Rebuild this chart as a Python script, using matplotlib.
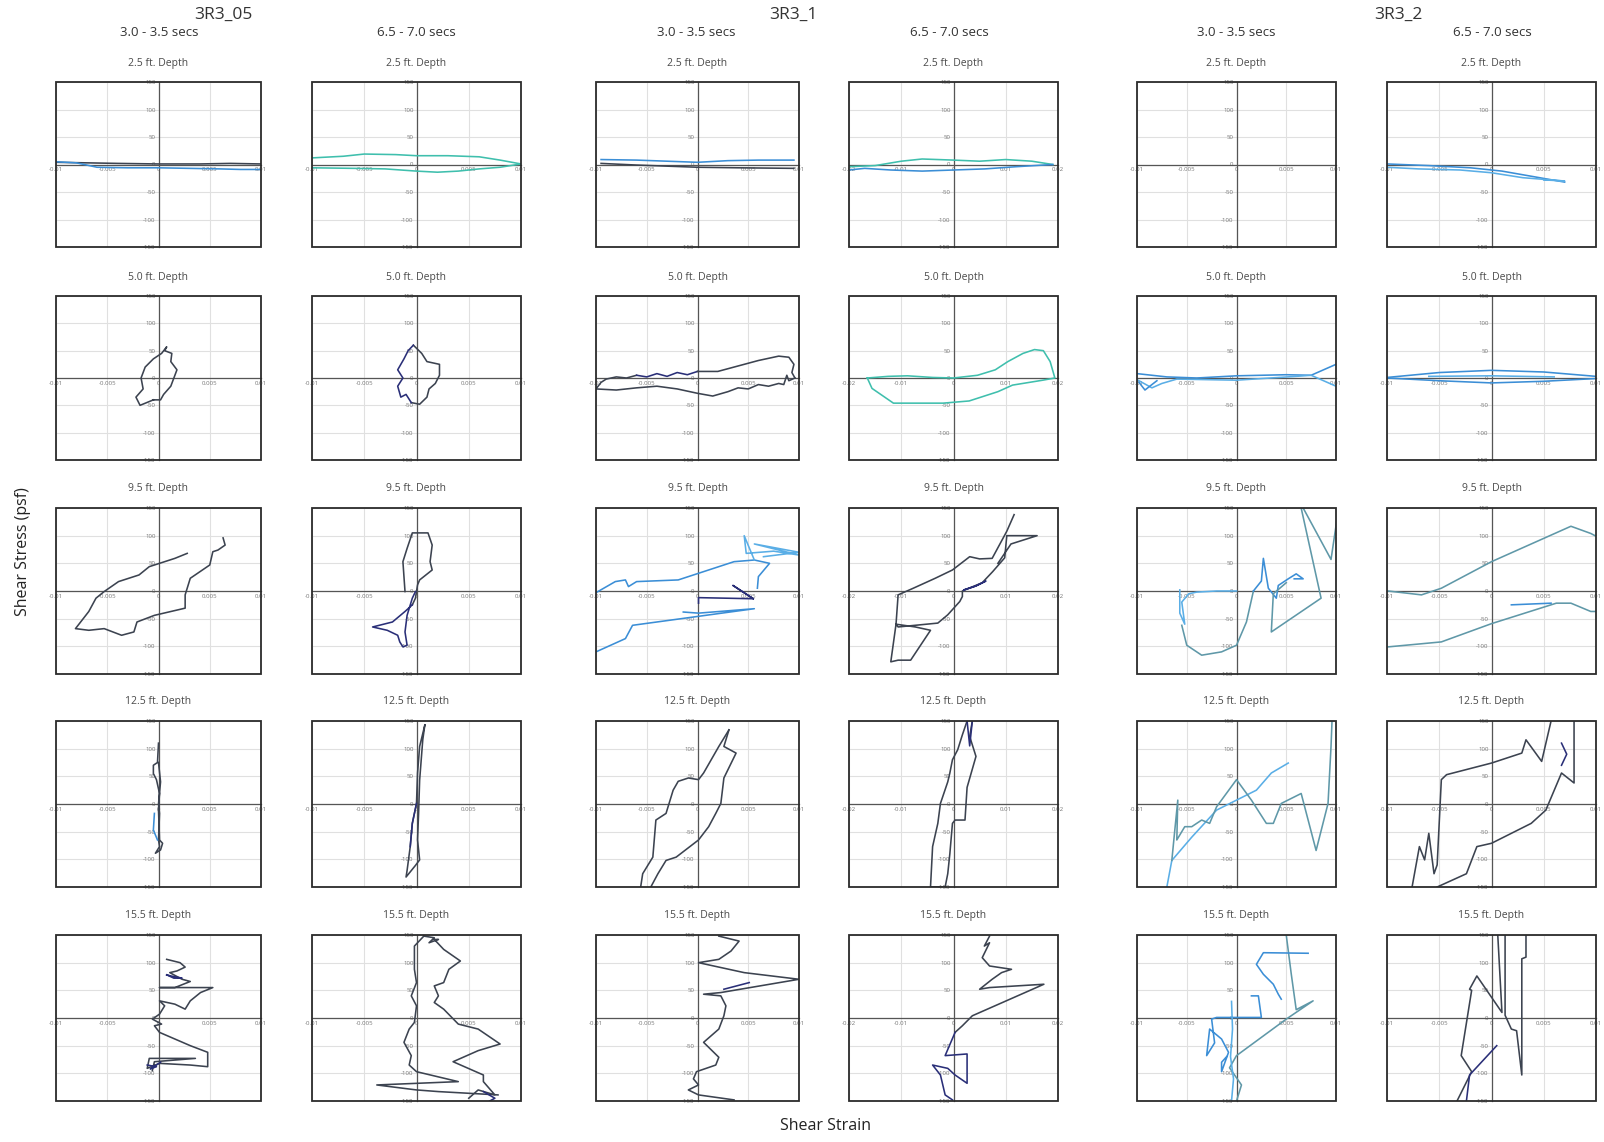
import matplotlib
matplotlib.use("Agg")
import matplotlib.pyplot as plt
from matplotlib.patches import Rectangle
from matplotlib.ticker import FuncFormatter

plt.rcParams["font.family"] = ["Open Sans", "DejaVu Sans"]

# ---------------------------------------------------------------------------
# Layout labels
# ---------------------------------------------------------------------------
groups = ["3R3_05", "3R3_1", "3R3_2"]
windows = ["3.0 - 3.5 secs", "6.5 - 7.0 secs"]
depths = ["2.5", "5.0", "9.5", "12.5", "15.5"]
# strain axis half-range for each column
strain_limits = [0.01, 0.01, 0.01, 0.02, 0.01, 0.01]
stress_limit = 150

COLORS = {
    "dark": "#3c4350",
    "navy": "#2a2f78",
    "blue": "#3b8ed6",
    "light": "#5aaee6",
    "teal": "#3fbfad",
    "gteal": "#5f98a8",
}

# ---------------------------------------------------------------------------
# Stress-strain traces: (colour key, shear strain, shear stress psf)
# ---------------------------------------------------------------------------
# 2.5 ft depth
r05_a_25 = [
    ("dark", [-0.01, -0.007, -0.004, 0, 0.004, 0.007, 0.01], [4, 3, 2, 1, 1, 2, 1]),
    ("blue", [-0.01, -0.008, -0.006, -0.003, 0, 0.003, 0.006, 0.008, 0.01],
     [5, 3, -5, -6, -6, -7, -8, -9, -9]),
]
r05_b_25 = [
    ("teal", [-0.01, -0.007, -0.005, -0.002, 0, 0.003, 0.006, 0.008, 0.01],
     [12, 15, 19, 18, 16, 16, 14, 8, 1]),
    ("teal", [0.01, 0.008, 0.006, 0.004, 0.002, 0, -0.003, -0.006, -0.01],
     [1, -5, -8, -12, -14, -12, -8, -7, -6]),
]
r1_a_25 = [
    ("blue", [-0.0095, -0.006, -0.003, 0, 0.003, 0.006, 0.0095], [9, 8, 6, 4, 7, 8, 8]),
    ("dark", [-0.0095, -0.006, -0.003, 0, 0.004, 0.0095], [2, -1, -3, -5, -6, -7]),
]
r1_b_25 = [
    ("teal", [-0.02, -0.015, -0.01, -0.006, 0, 0.005, 0.01, 0.015, 0.019],
     [-4, -2, 6, 10, 8, 6, 9, 6, 0]),
    ("blue", [0.019, 0.012, 0.006, 0, -0.006, -0.012, -0.017, -0.02],
     [0, -4, -8, -10, -12, -10, -7, -10]),
]
r2_a_25 = []
r2_b_25 = [
    ("blue", [-0.01, -0.006, -0.002, 0.001, 0.004, 0.007], [1, -2, -6, -12, -22, -32]),
    ("light", [-0.01, -0.007, -0.003, 0, 0.003, 0.007, 0.005], [-5, -8, -10, -15, -24, -30, -28]),
]

# 5.0 ft depth
r05_a_50 = [
    ("dark", [-0.0005, -0.0018, -0.0022, -0.0015, -0.0017, -0.0013, -0.0005, 0.0003, 0.0008,
              0.0006, 0.0013, 0.0012, 0.0018, 0.0015, 0.0012, 0.0005, 0.0002, -0.0005],
     [-40, -50, -35, -20, 0, 20, 35, 45, 57, 50, 45, 30, 15, 0, -15, -30, -40, -40]),
]
r05_b_50 = [
    ("dark", [-0.0003, 0.0005, 0.001, 0.0022, 0.0022, 0.0018, 0.0012, 0.001, 0.0003, -0.0005],
     [60, 45, 30, 25, 5, -10, -20, -35, -48, -45]),
    ("navy", [-0.0005, -0.001, -0.0015, -0.0018, -0.0013, -0.0018, -0.0012, -0.0008, -0.0003],
     [-45, -30, -35, -15, 0, 15, 35, 50, 60]),
]
r1_a_50 = [
    ("dark", [-0.01, -0.0095, -0.009, -0.008, -0.007, -0.006],
     [-20, -8, -2, 2, 0, 5]),
    ("navy", [-0.006, -0.005, -0.004, -0.003, -0.002, -0.001, 0],
     [5, 2, 8, 3, 10, 6, 12]),
    ("dark", [0, 0.002, 0.004, 0.006, 0.008, 0.009, 0.0095, 0.0093, 0.0096],
     [12, 12, 22, 32, 40, 38, 25, 10, 0]),
    ("dark", [0.0096, 0.009, 0.0088, 0.0085, 0.008, 0.007, 0.006, 0.005, 0.004, 0.003,
              0.0015, 0, -0.002, -0.004, -0.006, -0.008, -0.01],
     [0, -5, 5, -12, -10, -15, -12, -20, -18, -25, -33, -28, -20, -15, -18, -22, -20]),
]
r1_b_50 = [
    ("teal", [-0.0165, -0.0125, -0.0088, -0.004, 0, 0.0046, 0.008, 0.0104, 0.0133, 0.0155,
              0.0172, 0.0185, 0.0194, 0.0171, 0.0113, 0.0085, 0.003, -0.002, -0.0069,
              -0.0115, -0.0156, -0.0165],
     [0, 3, 4, 1, 0, 5, 15, 30, 45, 52, 50, 30, 0, -4, -13, -25, -42, -46, -46, -46, -19, 0]),
]
r2_a_50 = [
    ("blue", [-0.01, -0.007, -0.004, 0, 0.005, 0.0075, 0.01], [8, 2, 0, 4, 6, 5, 25]),
    ("light", [-0.01, -0.0085, -0.0075, -0.006, 0, 0.006, 0.0075, 0.01],
     [-3, -18, -10, -2, -4, 3, 5, -15]),
    ("blue", [-0.0098, -0.0092, -0.0085, -0.008], [-8, -22, -12, -5]),
]
r2_b_50 = [
    ("blue", [-0.01, -0.005, 0, 0.005, 0.01], [1, 10, 14, 11, 3]),
    ("blue", [0.01, 0.005, 0, -0.005, -0.01], [-1, -6, -9, -5, 0]),
    ("light", [-0.006, 0, 0.006], [3, 4, 2]),
]

# 9.5 ft depth
r05_a_95 = [
    ("dark", [0.0028, 0.0016, 0.0001, -0.0009, -0.0019, -0.0039, -0.0053, -0.0061, -0.0068,
              -0.0081, -0.0068, -0.0053, -0.0036, -0.0024, -0.0021, -0.0004, 0.0026, 0.0026,
              0.0031, 0.005, 0.0053, 0.0058, 0.0065, 0.0063],
     [68, 59, 50, 44, 29, 17, -1, -13, -37, -68, -71, -68, -80, -74, -56, -44, -31, -7, 23,
      47, 71, 74, 83, 96]),
]
r05_b_95 = [
    ("dark", [-0.0011, -0.0013, -0.0009, -0.0004, 0.0011, 0.0015, 0.0013, 0.0015, 0.0003,
              0.0001, -0.0001, -0.0004],
     [-1, 53, 77, 105, 105, 83, 53, 38, 20, 11, -13, -25]),
    ("navy", [-0.0004, -0.0011, -0.0023, -0.0042, -0.0028, -0.0018, -0.0016, -0.0013,
              -0.0009, -0.0011, -0.0009, -0.0004, -0.0001],
     [-25, -37, -56, -65, -71, -80, -92, -101, -98, -74, -44, -13, -1]),
]
r1_a_95 = [
    ("blue", [-0.01, -0.0081, -0.0071, -0.0068, -0.006, -0.0019, 0.0006, 0.0036, 0.0056,
              0.0071, 0.006, 0.0059],
     [-3, 17, 20, 8, 17, 20, 35, 53, 56, 50, 26, 5]),
    ("light", [0.0056, 0.0046, 0.0048, 0.0075, 0.01, 0.0056, 0.01, 0.0065],
     [56, 100, 68, 72, 65, 85, 70, 62]),
    ("navy", [0.0055, 0.0035, 0.0055, 0.0001, 0.0001], [-14, 10, -14, -12, -22]),
    ("blue", [-0.0014, 0.0001, 0.0056, -0.0064, -0.0071, -0.01], [-38, -40, -32, -62, -86, -110]),
]
r1_b_95 = [
    ("dark", [0.0116, 0.0102, 0.0074, 0.005, 0.0031, -0.0002, -0.0035, -0.0077, -0.0106,
              -0.011, -0.012, -0.0106, -0.0082, -0.0044, -0.0073, -0.011, -0.0106, -0.003,
              -0.0011, 0.0012, 0.0017, 0.0017, 0.0055, 0.0075, 0.0098, 0.0102, 0.016, 0.011,
              0.0085],
     [138, 108, 59, 58, 62, 38, 23, 5, -7, -60, -128, -125, -125, -71, -65, -60, -65, -58,
      -43, -19, -10, 0, 15, 35, 60, 100, 100, 85, 50]),
    ("navy", [0.002, 0.0045, 0.0062, 0.004, 0.002], [2, 10, 18, 8, 2]),
]
r2_a_95 = [
    ("light", [-0.0057, -0.0057, -0.0052, -0.0055, -0.0048, -0.004, -0.002, 0],
     [2, -40, -60, -20, -5, -2, 0, 0]),
    ("gteal", [-0.0055, -0.005, -0.0035, -0.0015, 0, 0.001, 0.0017],
     [-62, -98, -116, -110, -98, -56, 0]),
    ("blue", [0.0017, 0.0025, 0.0027, 0.0032, 0.004, 0.0042, 0.0052, 0.006, 0.0067, 0.0058],
     [0, 18, 59, 5, -13, 10, 22, 31, 22, 22]),
    ("gteal", [0.0065, 0.0085, 0.0035, 0.0037, 0.005], [150, -13, -74, -5, 15]),
    ("gteal", [0.0067, 0.0095, 0.0101], [150, 57, 130]),
]
r2_b_95 = [
    ("gteal", [-0.0099, -0.0067, -0.0048, 0, 0.0076, 0.0095, 0.01], [0, -7, 5, 53, 117, 104, 99]),
    ("gteal", [-0.0099, -0.0048, 0, 0.0062, 0.0076, 0.0095, 0.01],
     [-101, -92, -59, -22, -22, -37, -37]),
    ("blue", [0.0019, 0.0057], [-25, -22]),
]

# 12.5 ft depth
r05_a_125 = [
    ("dark", [0, -0.0001, -0.0005, -0.0005, -0.0002, 0.0001, 0, 0.0001, 0.0004, 0.0002,
              -0.0003, 0.0001, 0, 0.0001, 0, 0.0002, 0],
     [110, 75, 70, 55, 44, 19, -11, -65, -71, -83, -89, -77, -65, -17, 0, 40, 75]),
    ("blue", [-0.0004, -0.0005, -0.0001], [-17, -47, -65]),
]
r05_b_125 = [
    ("dark", [0.0008, 0.0003, 0.0001, 0, -0.0004, -0.0006, -0.0009, -0.001, -0.0001, 0.0003,
              0.0001, 0.0002, 0.0003, 0.0006, 0.0008],
     [143, 104, 56, 1, -35, -77, -120, -132, -111, -101, -65, -17, 43, 116, 143]),
    ("navy", [0, -0.0004, -0.0006], [1, -35, -77]),
]
r1_a_125 = [
    ("dark", [0.0031, 0.0026, 0.0038, 0.0026, 0.0023, 0.0018, 0.0011, 0.0006, 0.0001,
              -0.0021, -0.0031, -0.0039, -0.0046],
     [134, 104, 92, 47, 1, -17, -41, -53, -65, -96, -102, -126, -150]),
    ("dark", [-0.0056, -0.0054, -0.0044, -0.0041, -0.0031, -0.0024, -0.0019, -0.0009, 0.0001,
              0.0006, 0.0021, 0.0031],
     [-150, -126, -96, -29, -17, 25, 41, 47, 44, 56, 104, 134]),
]
r1_b_125 = [
    ("dark", [0.0026, 0.0017, 0.0008, -0.0002, -0.0007, -0.0011, -0.0025, -0.003, -0.004,
              -0.0044, -0.0016, -0.0011, -0.0007, -0.0002, 0.0003, 0.0022, 0.0026, 0.0043,
              0.0031, 0.0036],
     [150, 125, 98, 80, 56, 40, 1, -35, -77, -150, -150, -126, -90, -35, -29, -29, 30, 86,
      122, 150]),
    ("navy", [0.0026, 0.0031, 0.0036], [150, 105, 150]),
]
r2_a_125 = [
    ("light", [-0.007, -0.0065, -0.0045, -0.002, 0, 0.002, 0.0035, 0.0052],
     [-150, -102, -60, -11, 7, 25, 56, 74]),
    ("gteal", [-0.0065, -0.0062, -0.0059, -0.006, -0.0052, -0.0045, -0.0035, -0.0027, -0.002,
               0, 0.0015, 0.003, 0.0037, 0.0045, 0.0065, 0.008, 0.0092, 0.0095, 0.0096],
     [-102, -47, 7, -65, -41, -41, -29, -35, -5, 44, 7, -35, -35, 1, 19, -84, 1, 104, 150]),
]
r2_b_125 = [
    ("dark", [-0.0076, -0.0069, -0.0064, -0.006, -0.0055, -0.0052, -0.0048, -0.0043, 0,
              0.0029, 0.0033, 0.0048, 0.0057],
     [-150, -77, -101, -53, -126, -110, 44, 53, 74, 92, 116, 77, 150]),
    ("dark", [-0.0052, -0.0038, -0.0024, -0.0014, 0, 0.0038, 0.0052, 0.0067, 0.0079, 0.0079],
     [-150, -138, -126, -77, -71, -35, -11, 56, 38, 150]),
    ("navy", [0.0067, 0.0072, 0.0067], [110, 90, 70]),
]

# 15.5 ft depth
r05_a_155 = [
    ("dark", [0.0008, 0.0021, 0.0026, 0.0018, 0.0011, 0.0023, 0.0031, 0.0016, 0.0001, 0.0053,
              0.0041, 0.0031, 0.0026, 0.0016, 0.0001, 0.0006, 0.0001, -0.0006, 0.0003, -0.0004,
              0.0001, 0.0031, 0.0048, 0.0048, 0.0031, 0.0001, -0.0011, -0.0009, 0.0036,
              -0.0004, -0.0006],
     [106, 100, 92, 85, 82, 70, 66, 55, 55, 55, 46, 31, 16, 25, 31, 22, 7, -2, -11, -14,
      -26, -50, -62, -88, -85, -82, -91, -73, -73, -79, -95]),
    ("navy", [0.0008, 0.0015, 0.0023, 0.0012, 0.0008], [78, 72, 72, 76, 78]),
    ("navy", [-0.0011, -0.0002, -0.0008, 0.0002], [-85, -88, -92, -80]),
]
r05_b_155 = [
    ("dark", [0.0007, 0.0017, 0.0012, 0.0021, 0.0017, 0.0026, 0.0042, 0.0031, 0.0026, 0.0017,
              0.0021, 0.0017, 0.0026, 0.004, 0.0059, 0.008, 0.0059, 0.0035, 0.0064, 0.0064,
              0.0075, 0.0059, 0.005],
     [148, 145, 136, 142, 142, 124, 103, 88, 64, 58, 40, 28, 16, -11, -20, -47, -59, -79,
      -103, -115, -139, -130, -145]),
    ("dark", [0.0007, -0.0002, -0.0002, 0, -0.0005, 0, -0.0002, -0.0007, -0.0012, -0.0005,
              -0.0007, 0, 0.004, -0.0038, 0, 0.0021, 0.0078],
     [148, 130, 88, 64, 40, 22, -8, -20, -44, -68, -85, -97, -115, -121, -130, -133, -139]),
    ("navy", [0.0064, 0.0075, 0.007], [-133, -145, -150]),
]
r1_a_155 = [
    ("dark", [0.0021, 0.0041, 0.0033, 0.0021, 0.0001, 0.0046, 0.01, 0.0023, 0.0006, 0.0023,
              0.0028, 0.0026, 0.0021, 0.0006, 0.0021, 0.0018, -0.0001, -0.0004, 0.0001,
              -0.0009, 0.0001, 0.0036],
     [148, 139, 121, 106, 100, 82, 70, 46, 43, 40, 22, 4, -20, -44, -71, -85, -97, -110,
      -121, -130, -139, -148]),
    ("navy", [0.0026, 0.0051], [52, 64]),
]
r1_b_155 = [
    ("dark", [0.0069, 0.0059, 0.0069, 0.0055, 0.0069, 0.0111, 0.0092, 0.0074, 0.005, 0.0069,
              0.0173, 0.0036, 0.0017, 0.0003],
     [148, 130, 136, 109, 94, 88, 82, 70, 52, 55, 61, 4, -14, -26]),
    ("navy", [0.0003, -0.0016, 0.0026, 0.0026, 0.0003, -0.0011, -0.004, -0.0025, -0.0016,
              -0.0002],
     [-26, -68, -65, -118, -103, -91, -85, -103, -139, -148]),
]
r2_a_155 = [
    ("gteal", [0.005, 0.0055, 0.006, 0.0077, 0.005, 0, -0.0007, 0.0005, 0],
     [150, 80, 15, 31, -2, -68, -90, -121, -150]),
    ("blue", [0.0072, 0.0027, 0.002, 0.0027, 0.0037, 0.0042, 0.0045],
     [117, 118, 97, 79, 61, 43, 34]),
    ("blue", [0.0015, 0.0022, 0.0025, -0.002, -0.0025, -0.0022, -0.003, -0.0027, -0.0015,
              -0.0008, -0.0015, -0.0015, -0.001],
     [40, 40, 1, 1, -2, -45, -68, -20, -38, -62, -97, -80, -70]),
    ("light", [-0.0005, -0.0004, -0.0006, -0.0003, -0.0005], [30, -20, -70, -110, -150]),
]
r2_b_155 = [
    ("dark", [0.0006, 0.001, -0.0014, -0.0021, -0.0019, -0.0029, -0.0019, -0.0033],
     [150, 10, 76, 52, 50, -68, -97, -150]),
    ("dark", [0.0013, 0.0013, 0.0019, 0.0024, 0.0029, 0.0029, 0.0033, 0.0033],
     [150, 5, -20, -23, -103, 107, 110, 150]),
    ("navy", [0.0005, -0.0021, -0.0024], [-50, -103, -150]),
]

panels = [
    [r05_a_25, r05_b_25, r1_a_25, r1_b_25, r2_a_25, r2_b_25],
    [r05_a_50, r05_b_50, r1_a_50, r1_b_50, r2_a_50, r2_b_50],
    [r05_a_95, r05_b_95, r1_a_95, r1_b_95, r2_a_95, r2_b_95],
    [r05_a_125, r05_b_125, r1_a_125, r1_b_125, r2_a_125, r2_b_125],
    [r05_a_155, r05_b_155, r1_a_155, r1_b_155, r2_a_155, r2_b_155],
]

# ---------------------------------------------------------------------------
# Figure
# ---------------------------------------------------------------------------
W, H = 1604, 1142
fig = plt.figure(figsize=(W / 100, H / 100), dpi=100)

col_px = [(56, 261), (312, 521), (596, 799), (849, 1058), (1137, 1336), (1387, 1596)]
row_px = [(82, 247), (296, 460), (508, 674), (721, 887), (935, 1101)]

fmt_x = FuncFormatter(lambda v, _: "0" if abs(v) < 1e-12 else f"{v:g}")
fmt_y = FuncFormatter(lambda v, _: f"{v:.0f}")


def draw_panel(ax, traces, xmax, depth):
    ax.set_xlim(-xmax, xmax)
    ax.set_ylim(-stress_limit, stress_limit)
    ax.set_xticks([-xmax, -xmax / 2, 0, xmax / 2, xmax])
    ax.set_yticks(range(-stress_limit, stress_limit + 1, 50))
    ax.xaxis.set_major_formatter(fmt_x)
    ax.yaxis.set_major_formatter(fmt_y)
    ax.grid(True, color="#e0e0e0", lw=0.8, zorder=0)
    ax.set_axisbelow(True)
    for side in ("top", "right"):
        ax.spines[side].set_visible(False)
    ax.spines["left"].set_position("zero")
    ax.spines["bottom"].set_position("zero")
    for side in ("left", "bottom"):
        ax.spines[side].set_color("#555555")
        ax.spines[side].set_linewidth(0.9)
    ax.tick_params(length=0, labelsize=4.4, labelcolor="#777777", pad=2)
    ax.add_patch(Rectangle((0, 0), 1, 1, transform=ax.transAxes, fill=False,
                           ec="#2b2b2b", lw=1.3, zorder=6, clip_on=False))
    for key, xs, ys in traces:
        ax.plot(xs, ys, color=COLORS[key], lw=1.15, zorder=3, solid_joinstyle="round")
    ax.text(0.5, 1.115, f"{depth} ft. Depth", transform=ax.transAxes, ha="center",
            va="center", fontsize=7.5, color="#4a4a4a")


for r, (top, bot) in enumerate(row_px):
    for c, (left, right) in enumerate(col_px):
        ax = fig.add_axes([left / W, 1 - bot / H, (right - left) / W, (bot - top) / H])
        draw_panel(ax, panels[r][c], strain_limits[c], depths[r])

# Group headers and time windows
group_x = [223, 793, 1398]
for name, gx in zip(groups, group_x):
    fig.text(gx / W, 1 - 15 / H, name, ha="center", va="center", fontsize=12.5, color="#333333")
window_x = [159, 416, 696, 949, 1236, 1492]
for i, wx in enumerate(window_x):
    fig.text(wx / W, 1 - 33 / H, windows[i % 2], ha="center", va="center", fontsize=9.5,
             color="#333333")

fig.text(23 / W, 1 - 552 / H, "Shear Stress (psf)", rotation=90, ha="center", va="center",
         fontsize=11.5, color="#222222")
fig.text(826 / W, 1 - 1126 / H, "Shear Strain", ha="center", va="center", fontsize=11.5,
         color="#222222")

fig.savefig("out.png", dpi=100)
